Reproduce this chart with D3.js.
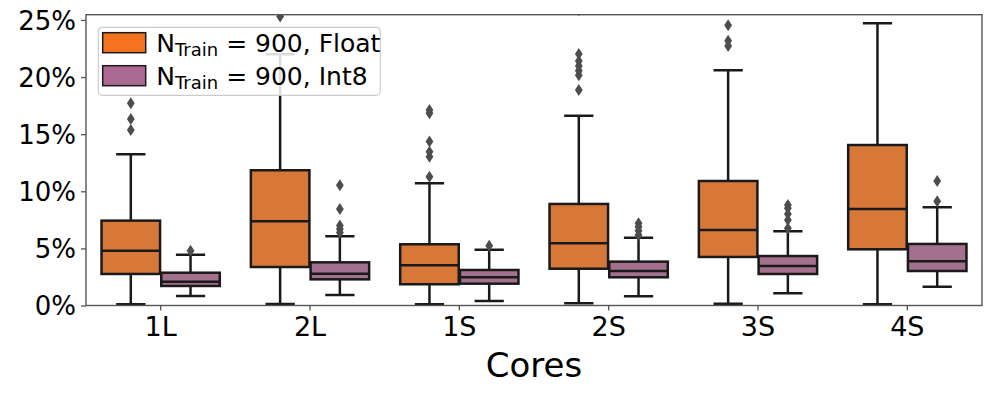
<!DOCTYPE html>
<html>
<head>
<meta charset="utf-8">
<script src="https://cdn.jsdelivr.net/npm/d3@7"></script>
<style>
  body { margin: 0; background: #fff; }
  text { font-family: "DejaVu Sans", sans-serif; }
</style>
</head>
<body>
<div id="chart"></div>
<script>
// categories and tick labels
var cores = ["1L", "2L", "1S", "2S", "3S", "4S"];
var yTicks = [0, 5, 10, 15, 20, 25];
var seriesNames = ["Float", "Int8"];

// box stats in % : [whisker low, q1, median, q3, whisker high]
var floatBox = [
  [0.1, 2.76, 4.80, 7.43, 13.24],
  [0.13, 3.37, 7.37, 11.84, 22.0],
  [0.1, 1.86, 3.52, 5.36, 10.7],
  [0.19, 3.22, 5.45, 8.89, 16.62],
  [0.16, 4.25, 6.61, 10.9, 20.6],
  [0.1, 4.92, 8.45, 14.05, 24.71]
];
var int8Box = [
  [0.83, 1.71, 2.08, 2.87, 4.45],
  [0.92, 2.29, 2.78, 3.78, 6.06],
  [0.39, 1.91, 2.47, 3.11, 4.89],
  [0.8, 2.47, 3.02, 3.84, 5.94],
  [1.07, 2.76, 3.46, 4.33, 6.5],
  [1.65, 3.02, 3.87, 5.39, 8.6]
];

// outliers in %
var floatOutliers = [
  [15.37, 16.33, 17.7],
  [25.3],
  [11.28, 13.03, 13.47, 14.35, 16.83, 17.12],
  [18.87, 20.16, 20.56, 20.97, 21.41, 22.02, 25.85],
  [22.72, 23.19, 24.54],
  []
];
var int8Outliers = [
  [4.8],
  [6.4, 6.7, 7.0, 8.45, 10.52],
  [5.24],
  [6.17, 6.55, 6.9, 7.2],
  [6.76, 7.49, 8.01, 8.51, 8.8],
  [9.12, 10.9]
];

var fillColors = ["#d87838", "#a3708e"];
var legendColors = ["#f37321", "#ab6890"];

var W = 997, H = 399;
var margin = { top: 14.7, right: 15, bottom: 93.5, left: 86 };
var width = W - margin.left - margin.right,
  height = H - margin.top - margin.bottom;

var svg = d3.select("#chart")
  .append("svg")
  .attr("width", W)
  .attr("height", H);

var g = svg.append("g")
  .attr("transform", "translate(" + margin.left + "," + margin.top + ")");

var x = d3.scaleBand()
  .domain(cores)
  .range([0, width])
  .padding(0);

var y = d3.scaleLinear()
  .domain([0, 25.46])
  .range([height, 0]);

var bw = x.bandwidth();
var boxW = bw * 0.4 * 0.98;
var offsets = [-bw * 0.2, bw * 0.2];

g.append("clipPath").attr("id", "clip")
  .append("rect").attr("width", width).attr("height", height);

var plot = g.append("g").attr("clip-path", "url(#clip)");

var lineColor = "#1a1a1a";
var diamond = "M0,-6L3.9,0L0,6L-3.9,0Z";

[floatBox, int8Box].forEach(function (stats, s) {
  var outs = s == 0 ? floatOutliers : int8Outliers;
  var grp = plot.append("g");
  stats.forEach(function (d, i) {
    var cx = x(cores[i]) + bw / 2 + offsets[s];
    // whiskers
    grp.append("line")
      .attr("x1", cx).attr("x2", cx)
      .attr("y1", y(d[0])).attr("y2", y(d[1]))
      .attr("stroke", lineColor).attr("stroke-width", 2.5);
    grp.append("line")
      .attr("x1", cx).attr("x2", cx)
      .attr("y1", y(d[3])).attr("y2", y(d[4]))
      .attr("stroke", lineColor).attr("stroke-width", 2.5);
    // caps
    [d[0], d[4]].forEach(function (v) {
      grp.append("line")
        .attr("x1", cx - boxW / 4).attr("x2", cx + boxW / 4)
        .attr("y1", y(v)).attr("y2", y(v))
        .attr("stroke", lineColor).attr("stroke-width", 2.5);
    });
    // box
    grp.append("rect")
      .attr("x", cx - boxW / 2)
      .attr("y", y(d[3]))
      .attr("width", boxW)
      .attr("height", y(d[1]) - y(d[3]))
      .attr("fill", fillColors[s])
      .attr("stroke", lineColor)
      .attr("stroke-width", 2.5);
    // median
    grp.append("line")
      .attr("x1", cx - boxW / 2).attr("x2", cx + boxW / 2)
      .attr("y1", y(d[2])).attr("y2", y(d[2]))
      .attr("stroke", lineColor).attr("stroke-width", 2.5);
    // outliers
    grp.selectAll(null)
      .data(outs[i])
      .enter().append("path")
      .attr("d", diamond)
      .attr("transform", function (v) { return "translate(" + cx + "," + y(v) + ")"; })
      .attr("fill", "#4d4d4d");
  });
});

// axes
var yAxis = g.append("g")
  .call(d3.axisLeft(y).tickValues(yTicks).tickSize(5).tickSizeOuter(0)
    .tickFormat(function (d) { return d + "%"; }));
var xAxis = g.append("g")
  .attr("transform", "translate(0," + height + ")")
  .call(d3.axisBottom(x).tickSize(5).tickSizeOuter(0));

yAxis.selectAll("text").style("font-size", "26px").attr("fill", "#000").attr("x", -10).attr("dy", "0.36em");
xAxis.selectAll("text").style("font-size", "27px").attr("fill", "#000").attr("y", 10).attr("dy", "0.76em");
g.selectAll(".domain").remove();
g.selectAll(".tick line").attr("stroke", "#555").attr("stroke-width", 1.3);

// frame
g.append("rect")
  .attr("width", width).attr("height", height)
  .attr("fill", "none")
  .attr("stroke", "#555")
  .attr("stroke-width", 1.4);

// x label
svg.append("text")
  .attr("x", margin.left + width / 2)
  .attr("y", 377)
  .attr("text-anchor", "middle")
  .style("font-size", "34px")
  .text("Cores");

// legend
var leg = g.append("g").attr("transform", "translate(12.3,12.6)");
leg.append("rect")
  .attr("width", 282).attr("height", 68)
  .attr("rx", 4)
  .attr("fill", "#fff").attr("fill-opacity", 0.85)
  .attr("stroke", "#cccccc").attr("stroke-width", 1.2);

seriesNames.forEach(function (name, i) {
  var row = leg.append("g").attr("transform", "translate(0," + (i * 33) + ")");
  row.append("rect")
    .attr("x", 4.4).attr("y", 5.4)
    .attr("width", 43).attr("height", 20)
    .attr("fill", legendColors[i])
    .attr("stroke", lineColor).attr("stroke-width", 1.5);
  var t = row.append("text")
    .attr("x", 58).attr("y", 24.5)
    .style("font-size", "25px");
  t.append("tspan").text("N");
  t.append("tspan").attr("dy", 4).style("font-size", "18px").text("Train");
  t.append("tspan").attr("dy", -4).text(" = 900, " + name);
});
</script>
</body>
</html>
